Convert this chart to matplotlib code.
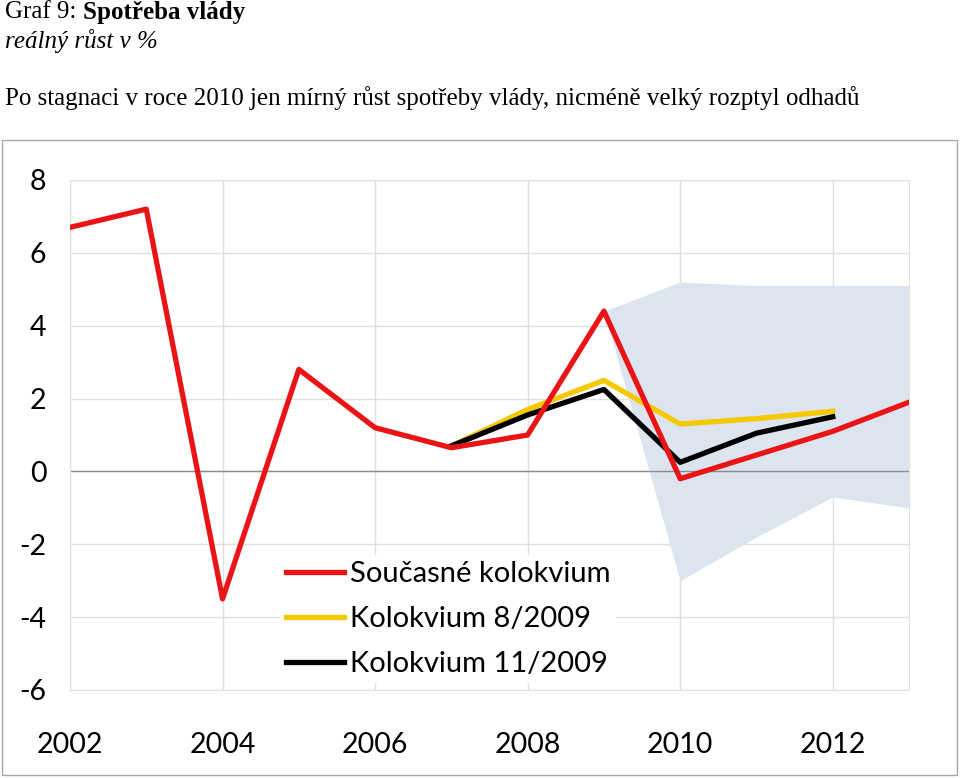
import matplotlib.pyplot as plt
from matplotlib.patches import Rectangle

plt.rcParams['axes.unicode_minus'] = False

years = [2002, 2003, 2004, 2005, 2006, 2007, 2008, 2009, 2010, 2011, 2012, 2013]
soucasne = [6.7, 7.2, -3.5, 2.8, 1.2, 0.65, 1.0, 4.4, -0.2, 0.45, 1.1, 1.9]

k_years = [2007, 2008, 2009, 2010, 2011, 2012]
kol_8_2009 = [0.7, 1.7, 2.5, 1.3, 1.45, 1.65]
kol_11_2009 = [0.7, 1.55, 2.25, 0.25, 1.05, 1.5]

band_years = [2009, 2010, 2011, 2012, 2013]
band_hi = [4.4, 5.2, 5.1, 5.1, 5.1]
band_lo = [4.4, -3.0, -1.8, -0.7, -1.0]

labels = ['Současné kolokvium', 'Kolokvium 8/2009', 'Kolokvium 11/2009']

fig = plt.figure(figsize=(9.6, 7.78), dpi=100)
ax = fig.add_axes([70/960, 1-690/778, 839/960, 510/778])

ax.fill_between(band_years, band_lo, band_hi, color='#dce4ef', lw=0, zorder=1)
ax.axhline(0, color='#8c8c8c', lw=1, zorder=2)
ax.plot(years, soucasne, color='#ea1416', lw=3.8, label=labels[0], zorder=5)
ax.plot(k_years, kol_8_2009, color='#f5c800', lw=3.8, label=labels[1], zorder=3)
ax.plot(k_years, kol_11_2009, color='black', lw=3.8, label=labels[2], zorder=4)

ax.set_xlim(2002, 2013)
ax.set_ylim(-6, 8)
ax.set_xticks(range(2002, 2013, 2))
ax.set_yticks(range(-6, 9, 2))
ax.grid(True, color='#e0e0e0', lw=1, zorder=0)
ax.set_axisbelow(True)
for s in ax.spines.values():
    s.set_color('#e0e0e0')
ax.tick_params(length=0, labelsize=20.5)
ax.tick_params(axis='x', pad=30)
ax.tick_params(axis='y', pad=17)
for t in ax.get_xticklabels() + ax.get_yticklabels():
    t.set_family('Lato')

leg = ax.legend(loc='upper left', bbox_to_anchor=(280/960, 1-555/778),
                bbox_transform=fig.transFigure, prop={'family': 'Lato', 'size': 21},
                frameon=True, fancybox=False, edgecolor='none', facecolor='white',
                framealpha=1, handlelength=2.0, handletextpad=0.2, labelspacing=0.66,
                borderpad=0.2, borderaxespad=0)
leg.set_zorder(6)

fig.patches.append(Rectangle((2/960, 3/778), 955/960, 635/778, transform=fig.transFigure,
                             fill=False, edgecolor='#a6a6a6', lw=1))

t1 = fig.text(5/960, 1-12/778, 'Graf 9: ', family='Liberation Serif', size=18, va='center')
fig.canvas.draw()
bb = t1.get_window_extent()
fig.text(bb.x1/960, 1-12/778, 'Spotřeba vlády', family='Liberation Serif', size=18,
         weight='bold', va='center')
fig.text(5/960, 1-41/778, 'reálný růst v %', family='Liberation Serif', size=18,
         style='italic', va='center')
fig.text(5/960, 1-98/778,
         'Po stagnaci v roce 2010 jen mírný růst spotřeby vlády, nicméně velký rozptyl odhadů',
         family='Liberation Serif', size=18, va='center')

fig.savefig('out.png', dpi=100)
